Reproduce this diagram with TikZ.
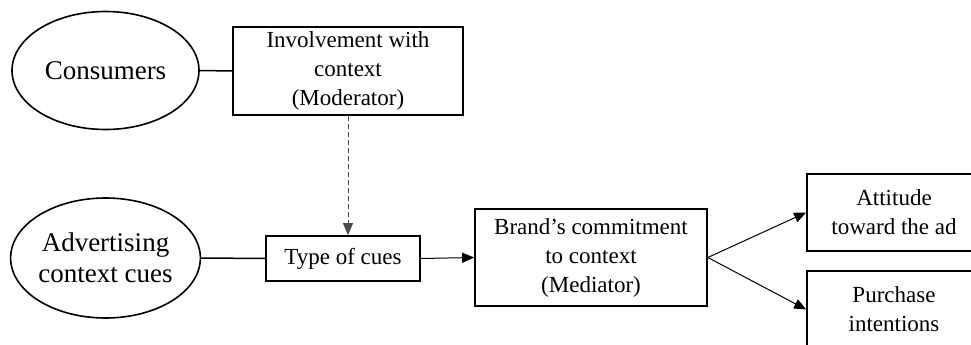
\documentclass[tikz,border=0pt]{standalone}
\usepackage{fontspec}
\setmainfont{Liberation Serif}
\usetikzlibrary{shapes.geometric,arrows.meta}

\tikzset{
  oval/.style={draw,ellipse,line width=1.6pt,inner sep=0pt,align=center,
    font=\fontsize{27}{31}\selectfont},
  box/.style={draw,rectangle,line width=1.7pt,inner sep=0pt,align=center,
    font=\fontsize{23}{29}\selectfont},
  link/.style={line width=1.5pt},
  arr/.style={line width=1pt,-{Triangle[length=12pt,width=10pt]}}
}

\begin{document}
\begin{tikzpicture}[x=1pt,y=-1pt]
          \useasboundingbox (0,0) rectangle (971,345);

          % left side
          \node[oval,minimum width=187,minimum height=118] (cons) at (105.5,70.5) {Consumers};
          \node[oval,minimum width=187,minimum height=120] (adv) at (105.5,258) {Advertising\\context cues};

          \node[box,minimum width=230,minimum height=88] (invol) at (348,71) {Involvement with\\context\\(Moderator)};
          \node[box,minimum width=154,minimum height=45] (cues) at (343,258.5) {Type of cues};

          % middle and outcomes
          \node[box,minimum width=232,minimum height=97] (brand) at (591,257.5) {Brand’s commitment\\to context\\(Mediator)};
          \node[box,minimum width=174,minimum height=77] (att) at (894,212.5) {Attitude\\toward the ad};
          \node[box,minimum width=174,minimum height=77] (purch) at (894,309.5) {Purchase\\intentions};

          \draw[link] (cons.east) -- (invol.west);
          \draw[link] (adv.east) -- (cues.west);
          \draw[arr,gray!60!black,dash pattern=on 5pt off 3pt] (invol.south) -- (invol.south |- cues.north);
          \draw[arr] (cues.east) -- (brand.west);
          \draw[arr] (brand.east) -- (att.west);
          \draw[arr] (brand.east) -- (purch.west);

        \end{tikzpicture}
\end{document}
